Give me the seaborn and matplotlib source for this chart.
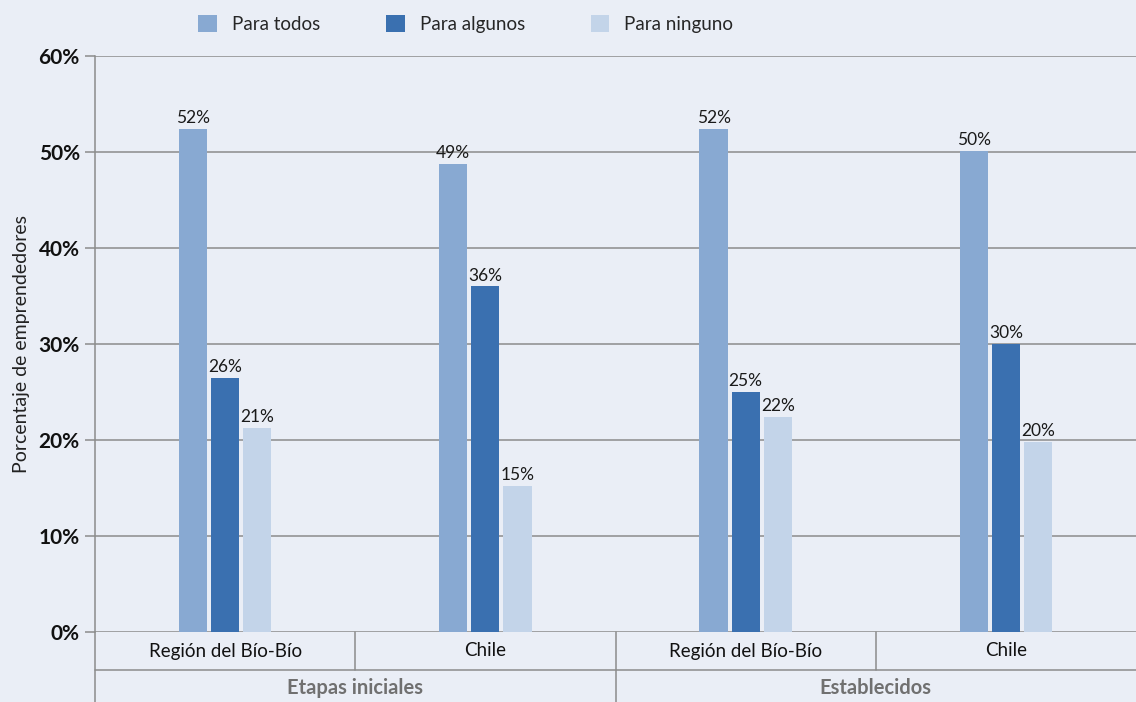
import matplotlib
matplotlib.use("Agg")
import matplotlib.pyplot as plt
import matplotlib.transforms as mtransforms
from matplotlib.patches import Patch
from matplotlib.lines import Line2D
import pandas as pd
import seaborn as sns

# Data
etapas = ["Etapas iniciales", "Establecidos"]
regiones = ["Región del Bío-Bío", "Chile"]
series = ["Para todos", "Para algunos", "Para ninguno"]
para_todos = [52.4, 48.75, 52.4, 50.1]
para_algunos = [26.46, 36.0, 25.0, 30.0]
para_ninguno = [21.25, 15.2, 22.4, 19.8]
y_ticks = [0, 10, 20, 30, 40, 50, 60]

colors = ["#88a9d2", "#3a70b0", "#c3d4e9"]
bg = "#eaeef6"
grid_c = "#8c8c8c"

grupos = [f"{e} | {r}" for e in etapas for r in regiones]
rows = []
for name, vals in zip(series, [para_todos, para_algunos, para_ninguno]):
    for g, v in zip(grupos, vals):
        rows.append({"grupo": g, "serie": name, "valor": v})
df = pd.DataFrame(rows)

sns.set_theme(style="white")
plt.rcParams["font.family"] = ["Lato", "DejaVu Sans"]

fig = plt.figure(figsize=(11.36, 7.02), dpi=100, facecolor=bg)
ax = fig.add_axes([95 / 1136, 1 - 632 / 702, 1 - 95 / 1136, (632 - 56) / 702])
ax.set_facecolor(bg)

sns.barplot(data=df, x="grupo", y="valor", hue="serie", order=grupos,
            hue_order=series, palette=colors, width=0.37, gap=0.12,
            saturation=1, legend=False, linewidth=0, ax=ax)

for c in ax.containers:
    ax.bar_label(c, labels=[f"{b.get_height():.0f}%" for b in c],
                 padding=2, fontsize=12.5, color="#1a1a1a")

ax.set_ylim(0, 60)
ax.set_xlim(-0.5, len(grupos) - 0.5)
ax.set_yticks(y_ticks)
ax.set_yticklabels([f"{t}%" for t in y_ticks], fontsize=15,
                   fontweight="bold", color="#111111")
ax.yaxis.grid(True, color=grid_c, linewidth=1.1)
ax.set_axisbelow(True)
ax.tick_params(axis="y", length=7, width=1.1, color=grid_c, pad=4, left=True)
ax.set_xticks([])
ax.set_xlabel("")
ax.set_ylabel("Porcentaje de emprendedores", fontsize=14, color="#222222",
              labelpad=6)
for s in ["top", "right", "bottom"]:
    ax.spines[s].set_visible(False)
ax.spines["left"].set_color(grid_c)
ax.spines["left"].set_linewidth(1.1)

# Two-level category table under the axis
tr = mtransforms.blended_transform_factory(ax.transData, ax.transAxes)
row1 = -38 / 576
row2 = -70 / 576
line_kw = dict(color=grid_c, linewidth=1.1, transform=tr, clip_on=False)
ax.add_line(Line2D([-0.5, -0.5], [0, row2 - 0.01], **line_kw))
ax.add_line(Line2D([-0.5, len(grupos) - 0.5], [row1, row1], **line_kw))
for i in range(1, len(grupos)):
    bottom = row2 - 0.01 if i % len(regiones) == 0 else row1
    ax.add_line(Line2D([i - 0.5, i - 0.5], [0, bottom], **line_kw))
for i, g in enumerate(grupos):
    ax.text(i, row1 / 2, regiones[i % len(regiones)], transform=tr,
            ha="center", va="center", fontsize=13.5, color="#111111")
for j, e in enumerate(etapas):
    xc = j * len(regiones) + (len(regiones) - 1) / 2
    ax.text(xc, (row1 + row2) / 2 - 0.004, e, transform=tr, ha="center",
            va="center", fontsize=14.5, fontweight="bold", color="#707070")

handles = [Patch(facecolor=c, edgecolor="none") for c in colors]
fig.legend(handles, series, loc="center", bbox_to_anchor=(0.41, 0.966),
           ncol=3, frameon=False, fontsize=13.5, handlelength=1.0,
           handleheight=1.0, handletextpad=0.8, columnspacing=3.5)

fig.savefig("out.png", dpi=100, facecolor=bg)
